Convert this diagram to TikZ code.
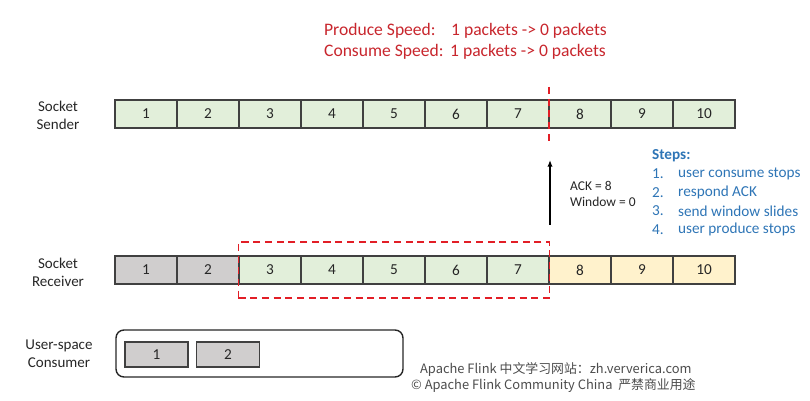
\documentclass[tikz,border=0pt]{standalone}
\usepackage{fontspec}
\setmainfont{Carlito}
\newfontfamily\cjkfont{Noto Sans CJK SC}
\usepackage{xcolor}
\usepackage{tikz}
\usetikzlibrary{arrows.meta, positioning, fit}
\definecolor{sendgreen}{RGB}{226,239,218}
\definecolor{recvgray}{RGB}{208,206,206}
\definecolor{recvyellow}{RGB}{255,242,204}
\definecolor{speedred}{RGB}{200,38,45}
\definecolor{winred}{RGB}{226,30,38}
\definecolor{stepblue}{RGB}{46,117,182}
\tikzset{
  cellbox/.style={
    draw=black!75, line width=0.9pt, inner sep=0pt,
    minimum width=1.86cm, minimum height=0.84cm,
    font=\fontsize{13}{15}\selectfont, text=black!85
  },
  bufcell/.style={
    draw=black!75, line width=0.9pt, inner sep=0pt, fill=recvgray,
    minimum width=1.89cm, minimum height=0.75cm,
    font=\fontsize{13}{15}\selectfont, text=black!85
  },
  consumerbox/.style={
    draw=black!85, line width=1.2pt, rounded corners=0.24cm,
    minimum width=8.61cm, minimum height=1.41cm
  },
  rowlabel/.style={align=center, font=\fontsize{12.8}{15.5}\selectfont, text=black!85},
  windowline/.style={draw=winred, line width=1.6pt, dash pattern=on 6pt off 4pt},
  ackarrow/.style={-{Latex[length=2mm, width=1.6mm]}, line width=1.2pt},
  acklabel/.style={anchor=west, align=left, font=\fontsize{11.5}{13.6}\selectfont, text=black!85},
  speedtext/.style={anchor=west, text=speedred, font=\fontsize{15}{17}\selectfont},
  steptext/.style={anchor=west, text=stepblue, font=\fontsize{13}{15}\selectfont},
  marktext/.style={anchor=west, text=black!70, font=\cjkfont\fontsize{11}{13}\selectfont},
}
\begin{document}
\begin{tikzpicture}[x=0.03cm, y=-0.03cm]
  \useasboundingbox (0,0) rectangle (810,401);

  % Speeds
  \node[speedtext] (prodlbl) at (320,31) {Produce Speed:};
  \node[speedtext] (prodval) at (447,31) {1 packets -> 0 packets};
  \node[speedtext] (conslbl) at (320,52) {Consume Speed:};
  \node[speedtext] (consval) at (446,52) {1 packets -> 0 packets};

  % Sender row
  \node[rowlabel] (senderlbl) at (58,115.5) {Socket\\Sender};
  \foreach \i in {1,...,10}
    \node[cellbox, fill=sendgreen] (s\i) at ({115+62*(\i-1)+31},114) {\i};
  \draw[windowline] (549,87) -- (549,142);

  % Receiver row
  \node[rowlabel] (receiverlbl) at (58,272) {Socket\\Receiver};
  \foreach \i/\c in {1/recvgray,2/recvgray,3/sendgreen,4/sendgreen,5/sendgreen,
                     6/sendgreen,7/sendgreen,8/recvyellow,9/recvyellow,10/recvyellow}
    \node[cellbox, fill=\c] (r\i) at ({115+62*(\i-1)+31},270) {\i};
  \node[windowline, fit=(r3)(r7), inner xsep=0pt, inner ysep=0.4cm] (window) {};

  % ACK
  \coordinate (ackfoot) at (550,225);
  \coordinate (acktip) at (550,160);
  \draw[ackarrow] (ackfoot) -- (acktip);
  \node[acklabel] (ack) at (566,194) {ACK = 8\\Window = 0};

  % Steps
  \node[steptext, font=\fontsize{13}{15}\selectfont\bfseries] (steps) at (648,156) {Steps:};
  \foreach \t [count=\k] in {user consume stops, respond ACK, send window slides, user produce stops} {
    \node[steptext] (num\k) at (648,{174+18.5*(\k-1)}) {\k.};
    \node[steptext] (step\k) at (674,{174+18.5*(\k-1)}) {\t};
  }

  % Consumer
  \node[rowlabel] (consumerlbl) at (59,354) {User-space\\Consumer};
  \node[consumerbox] (consumer) at (259.5,353.5) {};
  \node[bufcell] (c1) at (156.5,354.5) {1};
  \node[bufcell] (c2) at (228,354.5) {2};

  % Watermark
  \node[marktext] (site) at (416,370) {Apache Flink 中文学习网站：zh.ververica.com};
  \node[marktext] (copy) at (407,386) {© Apache Flink Community China\ \ 严禁商业用途};
\end{tikzpicture}
\end{document}
